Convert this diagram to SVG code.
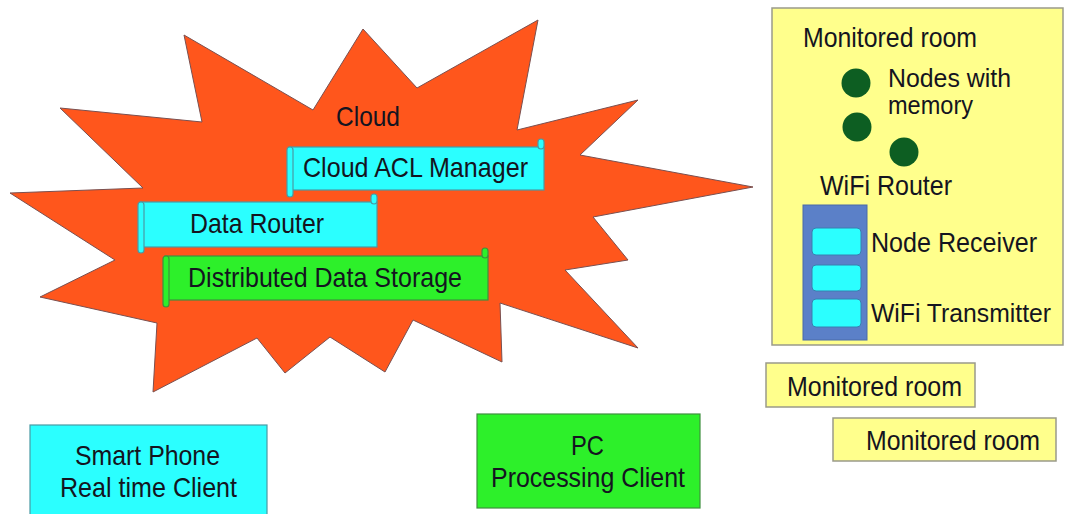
<svg xmlns="http://www.w3.org/2000/svg" width="1065" height="514" viewBox="0 0 1065 514">
<style>
text{font-family:"Liberation Sans",Arial,sans-serif;font-size:28px;fill:#141420}
text.small{font-size:25px}
.cyan{fill:#2bffff;stroke:#4a9aa4;stroke-width:1.2}
.green{fill:#2df02a;stroke:#3f8f3f;stroke-width:1.2}
.yellow{fill:#ffff8c;stroke:#9a9a8a;stroke-width:1.5}
.dot{fill:#0d5e22}
.slot{fill:#2bffff;stroke:#3a7fb0;stroke-width:1}
</style>
<rect width="1065" height="514" fill="#ffffff"/>
<g id="cloud">
<polygon points="10,193 143,188 60,108 202,122 184,35 313,110 363,29 417,88 538,20 517,130 638,100 580,155 753,187 593,217 628,260 565,270 638,348 500,303 502,362 413,320 385,372 330,337 285,373 257,338 153,392 157,323 40,297 115,260" fill="#ff561c" stroke="#7a5050" stroke-width="1"/>
<text x="336" y="126" textLength="64" lengthAdjust="spacingAndGlyphs">Cloud</text>
</g>
<g id="cloud-acl-manager">
<rect class="cyan" x="289" y="147" width="255" height="43"/>
<rect class="cyan" x="287" y="147" width="6" height="50" rx="3"/>
<rect class="cyan" x="538" y="139" width="6" height="10" rx="3"/>
<text x="303" y="177" textLength="225" lengthAdjust="spacingAndGlyphs">Cloud ACL Manager</text>
</g>
<g id="data-router">
<rect class="cyan" x="140" y="202" width="237" height="45"/>
<rect class="cyan" x="138" y="202" width="6" height="51" rx="3"/>
<rect class="cyan" x="371" y="194" width="6" height="10" rx="3"/>
<text x="190" y="233" textLength="134" lengthAdjust="spacingAndGlyphs">Data Router</text>
</g>
<g id="distributed-data-storage">
<rect class="green" x="165" y="256" width="323" height="44"/>
<rect class="green" x="163" y="256" width="6" height="51" rx="3"/>
<rect class="green" x="482" y="248" width="6" height="10" rx="3"/>
<text x="188" y="287" textLength="274" lengthAdjust="spacingAndGlyphs">Distributed Data Storage</text>
</g>
<g id="monitored-room-main">
<rect class="yellow" x="772" y="8" width="291" height="337"/>
<text x="803" y="47" textLength="174" lengthAdjust="spacingAndGlyphs">Monitored room</text>
<circle class="dot" cx="856" cy="83" r="14.5"/>
<circle class="dot" cx="857" cy="127" r="14.5"/>
<circle class="dot" cx="904" cy="152" r="14.5"/>
<text class="small" x="888" y="87" textLength="123" lengthAdjust="spacingAndGlyphs">Nodes with</text>
<text class="small" x="888" y="114" textLength="85" lengthAdjust="spacingAndGlyphs">memory</text>
</g>
<g id="wifi-router">
<text x="820" y="195" textLength="132" lengthAdjust="spacingAndGlyphs">WiFi Router</text>
<rect x="803" y="205" width="64" height="135" fill="#5b80c8" stroke="#4a6aa8" stroke-width="1"/>
<rect class="slot" x="812" y="228" width="49" height="27" rx="4"/>
<rect class="slot" x="812" y="265" width="49" height="26" rx="4"/>
<rect class="slot" x="812" y="299" width="49" height="28" rx="4"/>
<text x="871" y="252" textLength="166" lengthAdjust="spacingAndGlyphs">Node Receiver</text>
<text class="small" x="871" y="322" textLength="180" lengthAdjust="spacingAndGlyphs">WiFi Transmitter</text>
</g>
<g id="monitored-room-2">
<rect class="yellow" x="766" y="363" width="209" height="44"/>
<text x="787" y="396" textLength="175" lengthAdjust="spacingAndGlyphs">Monitored room</text>
</g>
<g id="monitored-room-3">
<rect class="yellow" x="833" y="418" width="223" height="43"/>
<text x="866" y="450" textLength="174" lengthAdjust="spacingAndGlyphs">Monitored room</text>
</g>
<g id="smart-phone">
<rect class="cyan" x="30" y="425" width="237" height="95"/>
<text x="75" y="465" textLength="145" lengthAdjust="spacingAndGlyphs">Smart Phone</text>
<text x="60" y="497" textLength="177" lengthAdjust="spacingAndGlyphs">Real time Client</text>
</g>
<g id="pc">
<rect class="green" x="477" y="414" width="223" height="94"/>
<text x="571" y="455" textLength="33" lengthAdjust="spacingAndGlyphs">PC</text>
<text x="491" y="487" textLength="194" lengthAdjust="spacingAndGlyphs">Processing Client</text>
</g>
<g id="connectors"/>
</svg>
